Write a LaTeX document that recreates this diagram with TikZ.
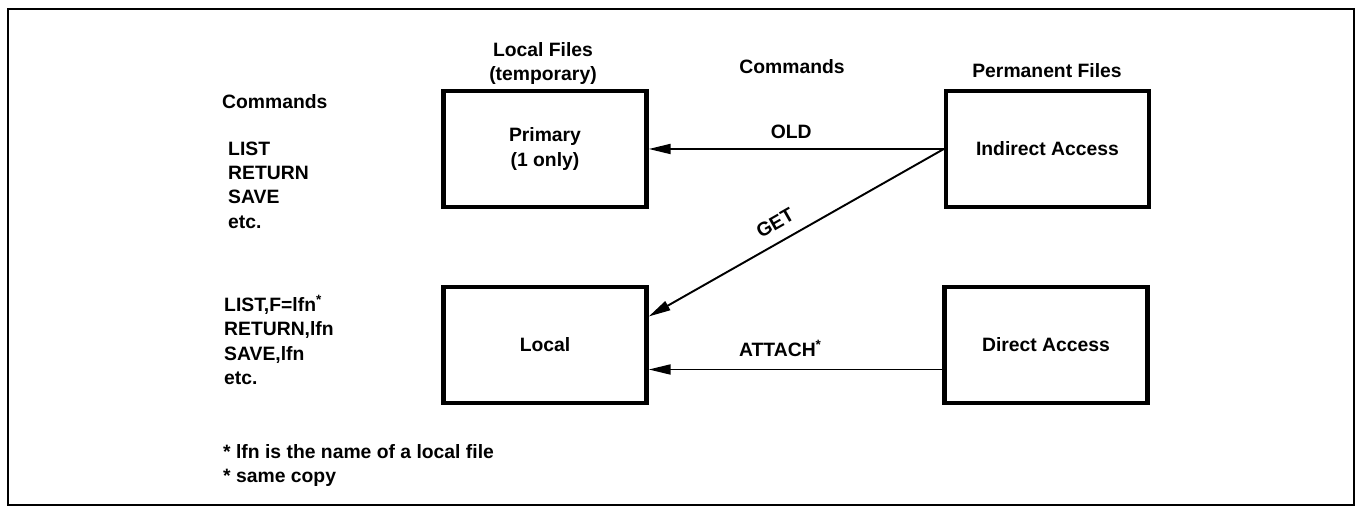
\documentclass[tikz,border=0pt]{standalone}
\usepackage{fontspec}
\setmainfont{Liberation Sans}
\usetikzlibrary{arrows.meta}

\begin{document}
\begin{tikzpicture}[
    font=\fontsize{11}{13.8}\selectfont\bfseries,
    box/.style={draw, line width=2.5pt, minimum width=4.06cm, minimum height=2.32cm, align=center},
    lst/.style={anchor=west, align=left},
    >={Triangle[length=4.4mm, width=2mm]}]
  \useasboundingbox (0,0) rectangle (27.22,10.2);
  \draw[line width=1.1pt] (0.16,0.1) rectangle (27.08,10.02);

  \node[box] (0) at (10.9,7.22) {Primary\\(1 only)};
  \node[box] (1) at (10.9,3.3) {Local};
  \node[box] (2) at (20.95,7.22) {Indirect Access};
  \node[box] (3) at (20.92,3.3) {Direct Access};

  \node[align=center] (4) at (10.86,8.93) {Local Files\\(temporary)};
  \node (5) at (15.84,8.86) {Commands};
  \node (6) at (20.94,8.78) {Permanent Files};

  \node[lst] (7) at (4.32,8.16) {Commands};
  \node[lst] (8) at (4.44,6.5) {LIST\\RETURN\\SAVE\\etc.};
  \node[lst] (9) at (4.36,3.4) {LIST,F=lfn\textsuperscript{*}\\RETURN,lfn\\SAVE,lfn\\etc.};
  \node[lst] (10) at (4.34,0.89) {* lfn is the name of a local file\\* same copy};

  \draw[->, line width=1.1pt] (2) -- node[above=2pt, xshift=-0.1cm] {OLD} (0);
  \draw[->, line width=1.1pt] (2.west) -- node[pos=0.54, sloped, above=3pt] {GET} ([yshift=0.57cm]1.east);
  \draw[->, line width=1.1pt] ([yshift=-0.49cm]3.west) -- node[above=3.5pt, xshift=-0.3cm] {ATTACH\textsuperscript{*}} ([yshift=-0.49cm]1.east);
\end{tikzpicture}
\end{document}
